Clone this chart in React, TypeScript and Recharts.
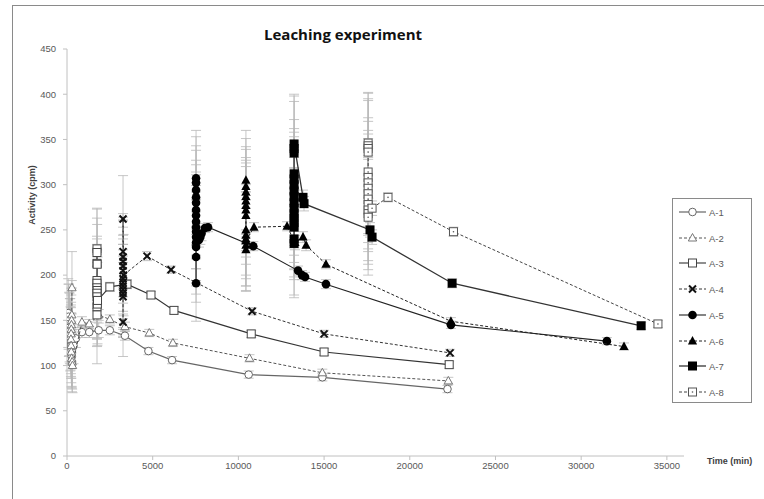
import React from 'react';
import { ScatterChart, Scatter, XAxis, YAxis, ErrorBar } from 'recharts';

// [time (min), activity (cpm), error]
const A1: number[][] = [
  [70, 158, 38], [90, 154, 36], [110, 150, 40], [130, 146, 35], [150, 142, 38], [170, 138, 36], [190, 134, 40],
  [210, 130, 35], [230, 126, 38], [250, 122, 36], [270, 117, 40], [280, 110, 35], [290, 103, 32],
  [380, 122, 20], [520, 130, 10], [870, 137, 6], [1300, 137, 6], [1850, 139, 8], [2500, 139, 5],
  [3380, 133, 5], [4750, 116, 4], [6130, 106, 4], [10600, 90, 4], [14900, 87, 4], [22200, 74, 4],
];
const A2: number[][] = [
  [290, 186, 40], [280, 156, 38], [270, 150, 36], [260, 145, 40], [250, 140, 38], [240, 135, 35], [230, 129, 38],
  [240, 122, 36], [250, 115, 34], [270, 108, 32], [300, 104, 30], [320, 100, 30],
  [870, 148, 6], [1300, 146, 5], [1850, 156, 6], [2500, 151, 5], [3380, 143, 5], [4800, 136, 4],
  [6180, 125, 4], [10650, 108, 4], [14900, 92, 4], [22250, 83, 4],
];
const A3: number[][] = [
  [1750, 229, 45], [1750, 225, 48], [1750, 213, 50], [1760, 212, 44], [1750, 194, 46], [1750, 191, 52],
  [1750, 186, 48], [1760, 183, 45], [1750, 180, 50], [1750, 176, 47], [1750, 165, 44], [1750, 156, 54],
  [1770, 168, 46], [1780, 172, 48],
  [2500, 187, 5], [3500, 190, 5], [4900, 178, 4], [6240, 161, 4], [10750, 135, 4], [15000, 115, 4], [22300, 101, 4],
];
const A4: number[][] = [
  [3270, 148, 38], [3270, 176, 45], [3270, 180, 48], [3270, 184, 50], [3270, 188, 46], [3270, 192, 52],
  [3270, 196, 44], [3270, 205, 48], [3270, 210, 50], [3270, 215, 46], [3270, 220, 44], [3270, 226, 42],
  [3270, 262, 48], [3300, 200, 45],
  [4670, 221, 5], [6070, 206, 4], [10800, 160, 4], [15000, 135, 4], [22350, 114, 4],
];
const A5: number[][] = [
  [7530, 191, 42], [7530, 220, 50], [7530, 231, 52], [7530, 236, 48], [7530, 242, 50], [7530, 248, 54],
  [7530, 253, 46], [7530, 259, 52], [7530, 266, 48], [7530, 272, 50], [7530, 280, 47], [7530, 286, 52],
  [7530, 294, 49], [7530, 302, 51], [7530, 307, 53],
  [7700, 239, 8], [7780, 242, 8], [7850, 246, 8], [8050, 252, 5], [8230, 253, 5],
  [10870, 232, 5], [13480, 205, 5], [13710, 200, 5], [13890, 198, 5], [15110, 190, 5], [22400, 145, 4], [31500, 127, 4],
];
const A6: number[][] = [
  [10440, 228, 46], [10440, 233, 50], [10440, 240, 52], [10440, 244, 48], [10440, 250, 50], [10440, 266, 54],
  [10440, 272, 52], [10440, 277, 50], [10440, 282, 48], [10440, 287, 52], [10440, 292, 50], [10440, 298, 53],
  [10440, 305, 55], [10440, 238, 50],
  [10910, 253, 5], [12840, 254, 5], [13300, 236, 8], [13770, 242, 6], [13950, 233, 6], [15110, 212, 5],
  [22400, 149, 4], [32500, 121, 4],
];
const A7: number[][] = [
  [13250, 235, 60], [13250, 240, 62], [13250, 253, 58], [13250, 258, 60], [13250, 263, 56], [13250, 268, 62],
  [13250, 274, 60], [13250, 280, 58], [13250, 287, 57], [13250, 293, 60], [13250, 300, 58], [13250, 306, 56],
  [13250, 312, 60], [13250, 335, 57], [13250, 340, 58], [13250, 345, 55],
  [13770, 286, 8], [13830, 279, 8], [17680, 250, 8], [17800, 242, 8], [22470, 191, 5], [33500, 144, 4],
];
const A8: number[][] = [
  [17570, 346, 56], [17570, 343, 58], [17570, 340, 55], [17570, 336, 57], [17570, 314, 60], [17570, 308, 62],
  [17570, 302, 58], [17570, 296, 60], [17570, 290, 61], [17570, 284, 58], [17570, 278, 62], [17570, 272, 60],
  [17570, 268, 62], [17570, 264, 64],
  [17800, 274, 8], [18730, 286, 5], [22550, 248, 5], [34480, 146, 4],
];

const X_TICKS = [0, 5000, 10000, 15000, 20000, 25000, 30000, 35000];
const Y_TICKS = [0, 50, 100, 150, 200, 250, 300, 350, 400, 450];
const NAMES = ['A-1', 'A-2', 'A-3', 'A-4', 'A-5', 'A-6', 'A-7', 'A-8'];
const SERIES = [A1, A2, A3, A4, A5, A6, A7, A8];

const toData = (arr: number[][]) => arr.map(([x, y, e]) => ({ x, y, e }));

type MP = { cx?: number; cy?: number };

const Marker = ({ kind, cx = 0, cy = 0 }: { kind: number; cx?: number; cy?: number }) => {
  switch (kind) {
    case 0:
      return <circle cx={cx} cy={cy} r={3.8} fill="#fff" stroke="#666" strokeWidth={1} />;
    case 1:
      return (
        <polygon
          points={`${cx},${cy - 4.5} ${cx + 4.2},${cy + 3} ${cx - 4.2},${cy + 3}`}
          fill="#fff" stroke="#777" strokeWidth={1}
        />
      );
    case 2:
      return <rect x={cx - 4} y={cy - 4} width={8} height={8} fill="#fff" stroke="#444" strokeWidth={1} />;
    case 3:
      return (
        <g stroke="#111" strokeWidth={2}>
          <line x1={cx - 3.5} y1={cy - 3.5} x2={cx + 3.5} y2={cy + 3.5} />
          <line x1={cx - 3.5} y1={cy + 3.5} x2={cx + 3.5} y2={cy - 3.5} />
        </g>
      );
    case 4:
      return <circle cx={cx} cy={cy} r={4.3} fill="#000" />;
    case 5:
      return <polygon points={`${cx},${cy - 5} ${cx + 4.6},${cy + 3.5} ${cx - 4.6},${cy + 3.5}`} fill="#000" />;
    case 6:
      return <rect x={cx - 4.5} y={cy - 4.5} width={9} height={9} fill="#000" />;
    default:
      return (
        <g>
          <rect x={cx - 4} y={cy - 4} width={8} height={8} fill="#fff" stroke="#555" strokeWidth={1} />
          <circle cx={cx} cy={cy} r={0.8} fill="#555" />
        </g>
      );
  }
};

const LINE_STYLES = [
  { stroke: '#666', strokeWidth: 1.2 },
  { stroke: '#555', strokeWidth: 1, strokeDasharray: '3 2' },
  { stroke: '#333', strokeWidth: 1.1 },
  { stroke: '#333', strokeWidth: 1, strokeDasharray: '3 2' },
  { stroke: '#222', strokeWidth: 1.1 },
  { stroke: '#222', strokeWidth: 1, strokeDasharray: '3 2' },
  { stroke: '#333', strokeWidth: 1.3 },
  { stroke: '#444', strokeWidth: 1, strokeDasharray: '3 2' },
];

const Empty = () => <g />;

export default function App() {
  const tickStyle = { fontSize: 9.5, fill: '#595959', fontFamily: 'Liberation Sans, Arial, sans-serif' };
  return (
    <div style={{ position: 'absolute', left: 0, top: 0, width: 764, height: 499, overflow: 'hidden', background: '#fff' }}>
      <div style={{ position: 'absolute', left: 12, top: 5, width: 900, height: 700, border: '1px solid #8a8a8a' }} />
      <div
        style={{
          position: 'absolute', left: 343, top: 34, transform: 'translate(-50%, -50%)', whiteSpace: 'nowrap',
          fontFamily: 'Open Sans, sans-serif', fontWeight: 700, fontSize: 15, color: '#111',
        }}
      >
        Leaching experiment
      </div>
      <div
        style={{
          position: 'absolute', left: 32, top: 195, transform: 'translate(-50%, -50%) rotate(-90deg)', whiteSpace: 'nowrap',
          fontFamily: 'Liberation Sans, Arial, sans-serif', fontWeight: 700, fontSize: 9, color: '#404040',
        }}
      >
        Activity (cpm)
      </div>
      <div
        style={{
          position: 'absolute', left: 707, top: 461, transform: 'translateY(-50%)', whiteSpace: 'nowrap',
          fontFamily: 'Liberation Sans, Arial, sans-serif', fontWeight: 700, fontSize: 9, color: '#404040',
        }}
      >
        Time (min)
      </div>
      <div style={{ position: 'absolute', left: 0, top: 0 }}>
        <ScatterChart width={764} height={499} margin={{ top: 49, right: 80, bottom: 23, left: 27 }}>
          <XAxis
            type="number" dataKey="x" domain={[0, 36000]} ticks={X_TICKS} allowDataOverflow
            axisLine={{ stroke: '#c0c0c0' }} tickLine={{ stroke: '#c0c0c0' }} tickSize={4} height={20}
            tick={tickStyle} interval={0}
          />
          <YAxis
            type="number" dataKey="y" domain={[0, 450]} ticks={Y_TICKS} allowDataOverflow
            axisLine={{ stroke: '#c0c0c0' }} tickLine={{ stroke: '#c0c0c0' }} tickSize={4} tickMargin={7} width={40}
            tick={tickStyle} interval={0}
          />
          {SERIES.map((s, i) => (
            <Scatter key={'eb' + i} data={toData(s)} shape={Empty} isAnimationActive={false} legendType="none">
              <ErrorBar dataKey="e" direction="y" width={5} stroke="#b8b8b8" strokeWidth={0.8} isAnimationActive={false} />
            </Scatter>
          ))}
          {SERIES.map((s, i) => (
            <Scatter
              key={'s' + i}
              name={NAMES[i]}
              data={toData(s)}
              line={LINE_STYLES[i]}
              lineType="joint"
              shape={(p: MP) => <Marker kind={i} cx={p.cx} cy={p.cy} />}
              isAnimationActive={false}
            />
          ))}
        </ScatterChart>
      </div>
      <div
        style={{
          position: 'absolute', left: 672, top: 198, width: 80, height: 205, border: '1px solid #8a8a8a',
          boxSizing: 'border-box', background: '#fff',
        }}
      >
        {NAMES.map((n, i) => (
          <div key={n} style={{ position: 'absolute', left: 0, top: 13 + i * 25.7 - 8, height: 16, width: 78 }}>
            <svg width={30} height={16} style={{ position: 'absolute', left: 5, top: 0 }}>
              <line x1={1} y1={8} x2={28} y2={8} {...LINE_STYLES[i]} />
              <Marker kind={i} cx={14.5} cy={8} />
            </svg>
            <span
              style={{
                position: 'absolute', left: 36, top: 8, transform: 'translateY(-50%)',
                fontFamily: 'Liberation Sans, Arial, sans-serif', fontSize: 9.5, color: '#595959',
              }}
            >
              {n}
            </span>
          </div>
        ))}
      </div>
    </div>
  );
}
